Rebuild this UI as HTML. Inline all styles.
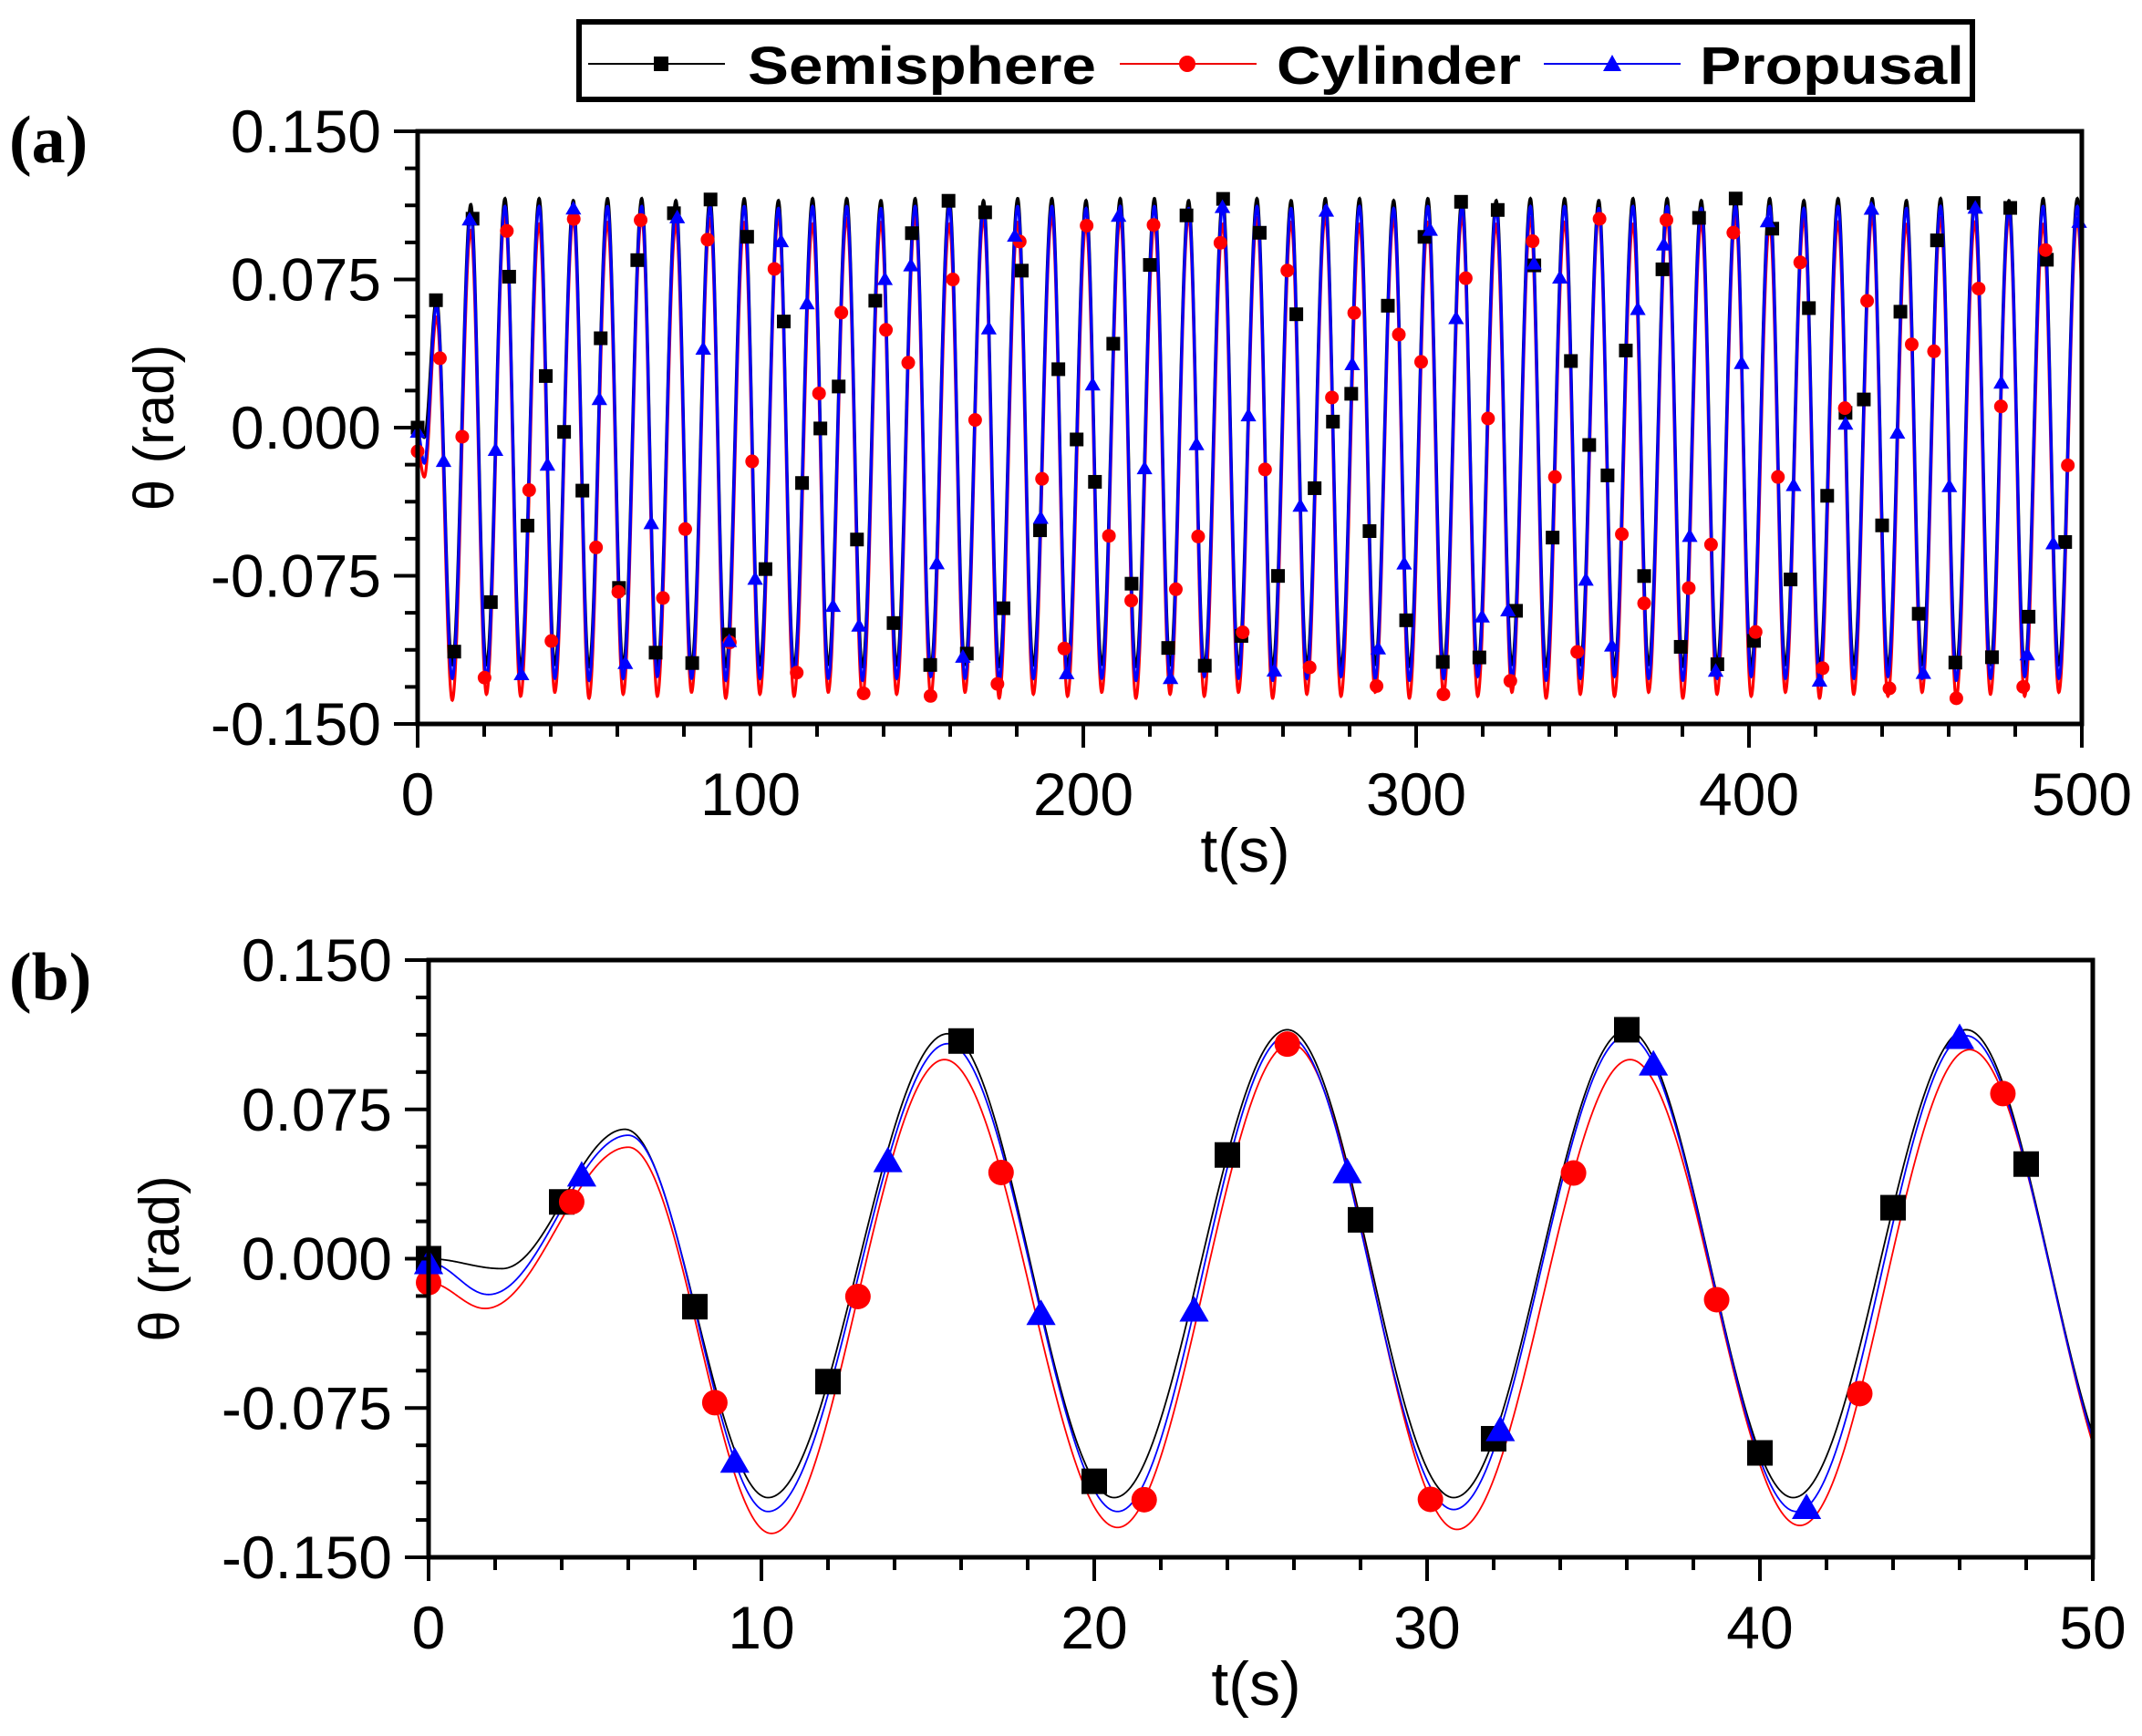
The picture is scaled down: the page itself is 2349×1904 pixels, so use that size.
<!DOCTYPE html>
<html><head><meta charset="utf-8"><style>
html,body{margin:0;padding:0;background:#fff;}
svg{display:block;font-family:"Liberation Sans",Arial,sans-serif;}
</style></head><body>
<svg id="fig" width="2349" height="1904" viewBox="0 0 2349 1904" xmlns="http://www.w3.org/2000/svg">
<rect x="0" y="0" width="2349" height="1904" fill="#fff"/>
<g>
<rect x="635" y="24" width="1528" height="85" fill="#fff" stroke="#000" stroke-width="6"/>
<g>
<line x1="645" y1="70" x2="795" y2="70" stroke="#000" stroke-width="2"/>
<rect x="717" y="62" width="16" height="16" fill="#000"/>
<text x="820" y="92" font-size="58" font-weight="bold" textLength="382" lengthAdjust="spacingAndGlyphs">Semisphere</text>
</g>
<g>
<line x1="1228" y1="70" x2="1378" y2="70" stroke="#e00" stroke-width="2"/>
<circle cx="1302" cy="70" r="9" fill="#f00"/>
<text x="1400" y="92" font-size="58" font-weight="bold" textLength="268" lengthAdjust="spacingAndGlyphs">Cylinder</text>
</g>
<g>
<line x1="1693" y1="70" x2="1843" y2="70" stroke="#00e" stroke-width="2"/>
<polygon points="1768,60 1778,78 1758,78" fill="#00f"/>
<text x="1864" y="92" font-size="58" font-weight="bold" textLength="290" lengthAdjust="spacingAndGlyphs">Propusal</text>
</g>
</g>
<text x="10" y="178" font-family="Liberation Serif,serif" font-size="74" font-weight="bold">(a)</text>
<text x="10" y="1096" font-family="Liberation Serif,serif" font-size="74" font-weight="bold">(b)</text>
<g id="plotA"></g>
<g id="plotB"></g>
</svg>
<script>
// ---------- Data: panel (a) ----------
const aPeriod = 10.27;
const aXTicks = [0,100,200,300,400,500];
const aYTicks = [0.150,0.075,0.000,-0.075,-0.150];
const aYTickLabels = ["0.150","0.075","0.000","-0.075","-0.150"];
const aStartT = [0, 2.0];
const aSemiStart = [0, -0.005];
const aCylStart = [-0.012, -0.025];
const aPropStart = [-0.002, -0.018];
const aSemiPeaks = [0.065,0.113,0.116,0.116,0.115,0.116,0.116,0.115,0.116,0.116,0.115,0.116,0.116,0.115,0.116,0.116,0.115,0.116,0.116,0.115,0.116,0.116,0.115,0.116,0.116,0.115,0.116,0.116,0.115,0.116,0.116,0.115,0.116,0.116,0.115,0.116,0.116,0.115,0.116,0.116,0.115,0.116,0.116,0.115,0.116,0.116,0.115,0.116,0.116];
const aSemiTroughs = [-0.120,-0.120,-0.121,-0.120,-0.121,-0.120,-0.121,-0.120,-0.121,-0.120,-0.121,-0.120,-0.121,-0.120,-0.121,-0.120,-0.121,-0.120,-0.121,-0.120,-0.121,-0.120,-0.121,-0.120,-0.121,-0.120,-0.121,-0.120,-0.121,-0.120,-0.121,-0.120,-0.121,-0.120,-0.121,-0.120,-0.121,-0.120,-0.121,-0.120,-0.121,-0.120,-0.121,-0.120,-0.121,-0.120,-0.121,-0.120,-0.121];
const aCylPeaks = [0.056,0.100,0.108,0.103,0.106,0.104,0.107,0.103,0.106,0.104,0.107,0.103,0.106,0.104,0.107,0.103,0.106,0.104,0.107,0.103,0.106,0.104,0.107,0.103,0.106,0.104,0.107,0.103,0.106,0.104,0.107,0.103,0.106,0.104,0.107,0.103,0.106,0.104,0.107,0.103,0.106,0.104,0.107,0.103,0.106,0.104,0.107,0.103,0.106];
const aCylTroughs = [-0.138,-0.135,-0.136,-0.134,-0.137,-0.135,-0.136,-0.134,-0.137,-0.135,-0.136,-0.134,-0.137,-0.135,-0.136,-0.134,-0.137,-0.135,-0.136,-0.134,-0.137,-0.135,-0.136,-0.134,-0.137,-0.135,-0.136,-0.134,-0.137,-0.135,-0.136,-0.134,-0.137,-0.135,-0.136,-0.134,-0.137,-0.135,-0.136,-0.134,-0.137,-0.135,-0.136,-0.134,-0.137,-0.135,-0.136,-0.134,-0.137];
const aPropPeaks = [0.062,0.108,0.112,0.112,0.111,0.112,0.112,0.111,0.112,0.112,0.111,0.112,0.112,0.111,0.112,0.112,0.111,0.112,0.112,0.111,0.112,0.112,0.111,0.112,0.112,0.111,0.112,0.112,0.111,0.112,0.112,0.111,0.112,0.112,0.111,0.112,0.112,0.111,0.112,0.112,0.111,0.112,0.112,0.111,0.112,0.112,0.111,0.112,0.112];
const aPropTroughs = [-0.127,-0.127,-0.126,-0.127,-0.128,-0.127,-0.126,-0.127,-0.128,-0.127,-0.126,-0.127,-0.128,-0.127,-0.126,-0.127,-0.128,-0.127,-0.126,-0.127,-0.128,-0.127,-0.126,-0.127,-0.128,-0.127,-0.126,-0.127,-0.128,-0.127,-0.126,-0.127,-0.128,-0.127,-0.126,-0.127,-0.128,-0.127,-0.126,-0.127,-0.128,-0.127,-0.126,-0.127,-0.128,-0.127,-0.126,-0.127,-0.128];
const aMarkStep = {semi:5.5, cyl:6.7, prop:7.8};

// ---------- Data: panel (b) ----------
const bXTicks = [0,10,20,30,40,50];
const bSemiT = [0,2.2,5.9,10.2,15.6,20.6,25.8,30.8,36.0,41.0,46.2,51.2];
const bSemiV = [0,-0.005,0.065,-0.120,0.113,-0.120,0.115,-0.120,0.115,-0.120,0.115,-0.120];
const bCylT = [0,1.7,6.0,10.3,15.5,20.7,25.9,30.9,36.1,41.2,46.3,51.4];
const bCylV = [-0.012,-0.025,0.056,-0.138,0.100,-0.135,0.108,-0.136,0.100,-0.134,0.105,-0.135];
const bPropT = [0,1.8,6.0,10.2,15.6,20.7,25.8,30.8,36.0,41.1,46.2,51.3];
const bPropV = [-0.002,-0.018,0.062,-0.127,0.108,-0.127,0.112,-0.126,0.112,-0.127,0.112,-0.127];
const bSemiMarkT = [0,4,8,12,16,20,24,28,32,36,40,44,48];
const bCylMarkT = [0,4.3,8.6,12.9,17.2,21.5,25.8,30.1,34.4,38.7,43.0,47.3];
const bPropMarkT = [0,4.6,9.2,13.8,18.4,23.0,27.6,32.2,36.8,41.4,46.0];

const NS="http://www.w3.org/2000/svg";
function mk(tag, parent){const e=document.createElementNS(NS,tag);parent.appendChild(e);return e;}

function buildExtremaA(start, startV, peaks, troughs){
  const T=start.slice(), V=startV.slice();
  for(let k=0;k<peaks.length;k++){
    T.push(5.7+aPeriod*k); V.push(peaks[k]);
    T.push(10.4+aPeriod*k); V.push(troughs[k]);
  }
  return [T,V];
}
function evalCurve(T,V,t){
  if(t<=T[0]) return V[0];
  for(let i=0;i<T.length-1;i++){
    if(t<=T[i+1]){const u=(t-T[i])/(T[i+1]-T[i]);return V[i]+(V[i+1]-V[i])*(1-Math.cos(Math.PI*u))/2;}
  }
  return V[V.length-1];
}

function drawPanel(g, P){
  const sx=t=>P.x0+(t-P.tmin)/(P.tmax-P.tmin)*(P.x1-P.x0);
  const sy=v=>P.yT+(0.150-v)/0.300*(P.yB-P.yT);
  const clip=mk('clipPath',g); clip.setAttribute('id',P.id+'clip');
  const cr=mk('rect',clip); cr.setAttribute('x',P.x0);cr.setAttribute('y',P.yT-20);cr.setAttribute('width',P.x1-P.x0);cr.setAttribute('height',P.yB-P.yT+40);
  const series=P.series;
  series.forEach(s=>{
    let d='';const n=P.samples;
    for(let i=0;i<=n;i++){const t=P.tmin+(P.tmax-P.tmin)*i/n;const v=evalCurve(s.T,s.V,t);d+=(i?'L':'M')+sx(t).toFixed(2)+' '+sy(v).toFixed(2);}
    const p=mk('path',g);
    
    
    p.setAttribute('d',d);p.setAttribute('fill','none');p.setAttribute('stroke',s.color);p.setAttribute('stroke-width',P.lw);
    p.setAttribute('clip-path','url(#'+P.id+'clip)');
  });
  series.forEach(s=>{
    s.marks.forEach(t=>{
      if(t>P.tmax) return;
      const x=sx(t), y=sy(evalCurve(s.T,s.V,t)), r=P.ms/2;
      let m;
      if(s.shape==='sq'){m=mk('rect',g);m.setAttribute('x',x-r);m.setAttribute('y',y-r);m.setAttribute('width',2*r);m.setAttribute('height',2*r);}
      else if(s.shape==='ci'){m=mk('circle',g);m.setAttribute('cx',x);m.setAttribute('cy',y);m.setAttribute('r',r);}
      else {m=mk('polygon',g);m.setAttribute('points',`${x},${y-r*1.1} ${x+r*1.15},${y+r*0.9} ${x-r*1.15},${y+r*0.9}`);}
      
      
      m.setAttribute('fill',s.color);
    });
  });
  const fr=mk('rect',g);
  
  
  fr.setAttribute('x',P.x0);fr.setAttribute('y',P.yT);fr.setAttribute('width',P.x1-P.x0);fr.setAttribute('height',P.yB-P.yT);
  fr.setAttribute('fill','none');fr.setAttribute('stroke','#000');fr.setAttribute('stroke-width',5);
  for(let i=0;i<=16;i++){
    const v=0.150-i*0.01875, y=sy(v), major=i%4===0;
    const l=mk('line',g);
    
    
    l.setAttribute('x1',P.x0);l.setAttribute('x2',P.x0-(major?26:14));l.setAttribute('y1',y);l.setAttribute('y2',y);
    l.setAttribute('stroke','#000');l.setAttribute('stroke-width',4);
  }
  aYTicks.forEach((v,i)=>{
    const t=mk('text',g);
    
    
    t.setAttribute('x',P.x0-40);t.setAttribute('y',sy(v)+23);t.setAttribute('text-anchor','end');t.setAttribute('font-size',66);
    t.textContent=aYTickLabels[i];
  });
  const nMinor=25;
  for(let i=0;i<=nMinor;i++){
    const tv=P.tmin+(P.tmax-P.tmin)*i/nMinor, x=sx(tv), major=i%5===0;
    const l=mk('line',g);
    
    
    l.setAttribute('x1',x);l.setAttribute('x2',x);l.setAttribute('y1',P.yB);l.setAttribute('y2',P.yB+(major?26:14));
    l.setAttribute('stroke','#000');l.setAttribute('stroke-width',4);
  }
  P.xTicks.forEach(v=>{
    const t=mk('text',g);
    
    
    t.setAttribute('x',sx(v));t.setAttribute('y',P.yB+100);t.setAttribute('text-anchor','middle');t.setAttribute('font-size',66);
    t.textContent=String(v);
  });
  const xt=mk('text',g);
  
  
  xt.setAttribute('x',(P.x0+P.x1)/2-5);xt.setAttribute('y',P.yB+162);xt.setAttribute('text-anchor','middle');xt.setAttribute('font-size',68);
  xt.textContent='t(s)';
  const yt=mk('text',g);
  
  
  const cy=(P.yT+P.yB)/2;
  yt.setAttribute('transform',`translate(${P.ytx},${cy}) rotate(-90)`);yt.setAttribute('text-anchor','middle');yt.setAttribute('font-size',62);
  yt.textContent='θ (rad)';
}

function marksFrom(step,tmax){const out=[];for(let t=0;t<=tmax;t+=step)out.push(t);return out;}

const [sT,sV]=buildExtremaA(aStartT,aSemiStart,aSemiPeaks,aSemiTroughs);
const [cT,cV]=buildExtremaA(aStartT,aCylStart,aCylPeaks,aCylTroughs);
const [pT,pV]=buildExtremaA(aStartT,aPropStart,aPropPeaks,aPropTroughs);

drawPanel(document.getElementById('plotA'),{id:'a',x0:458,x1:2283,yT:144,yB:794,tmin:0,tmax:500,samples:6000,lw:3.2,ms:15,xTicks:aXTicks,ytx:190,
  series:[
    {name:'semisphere',color:'#000',T:sT,V:sV,shape:'sq',marks:marksFrom(aMarkStep.semi,500)},
    {name:'cylinder',color:'#f00',T:cT,V:cV,shape:'ci',marks:marksFrom(aMarkStep.cyl,500)},
    {name:'propusal',color:'#00f',T:pT,V:pV,shape:'tr',marks:marksFrom(aMarkStep.prop,500)}
  ]});
drawPanel(document.getElementById('plotB'),{id:'b',x0:470,x1:2295,yT:1053,yB:1708,tmin:0,tmax:50,samples:2000,lw:1.8,ms:28,xTicks:bXTicks,ytx:196,
  series:[
    {name:'semisphere',color:'#000',T:bSemiT,V:bSemiV,shape:'sq',marks:bSemiMarkT},
    {name:'cylinder',color:'#f00',T:bCylT,V:bCylV,shape:'ci',marks:bCylMarkT},
    {name:'propusal',color:'#00f',T:bPropT,V:bPropV,shape:'tr',marks:bPropMarkT}
  ]});
</script>
</body></html>
